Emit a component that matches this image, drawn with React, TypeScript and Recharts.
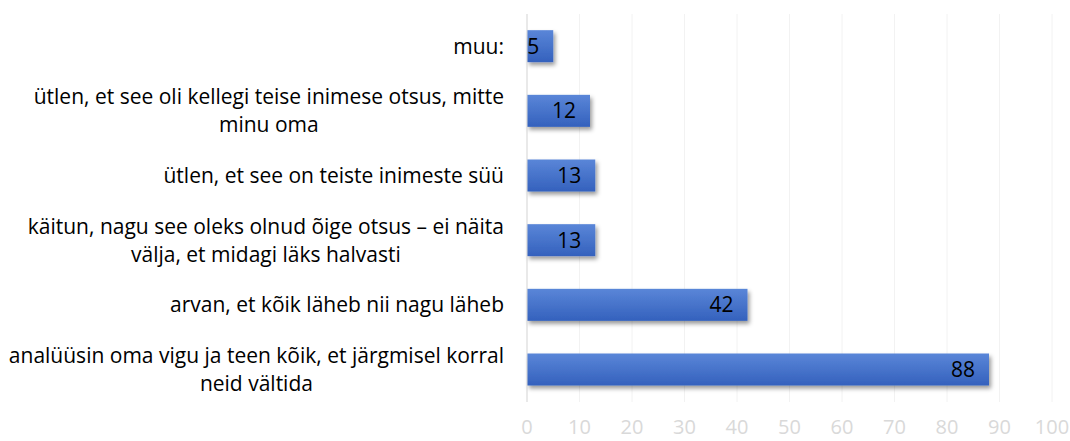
import React from 'react';
import { BarChart, Bar, XAxis, YAxis, CartesianGrid, LabelList } from 'recharts';

const categories: string[][] = [
  ['muu:'],
  ['ütlen, et see oli kellegi teise inimese otsus, mitte', 'minu oma'],
  ['ütlen, et see on teiste inimeste süü'],
  ['käitun, nagu see oleks olnud õige otsus – ei näita', 'välja, et midagi läks halvasti'],
  ['arvan, et kõik läheb nii nagu läheb'],
  ['analüüsin oma vigu ja teen kõik, et järgmisel korral', 'neid vältida'],
];
const values: number[] = [5, 12, 13, 13, 42, 88];
const xTicks: number[] = [0, 10, 20, 30, 40, 50, 60, 70, 80, 90, 100];

const FONT = '"Open Sans", sans-serif';
const FS = 21;

const data = categories.map((c, i) => ({ name: c.join('\n'), value: values[i] }));

let ctx: CanvasRenderingContext2D | null = null;
function measure(t: string): number {
  if (!ctx) {
    const c = document.createElement('canvas');
    ctx = c.getContext('2d');
  }
  if (!ctx) return t.length * 9;
  ctx.font = `${FS}px ${FONT}`;
  return ctx.measureText(t).width;
}

const YTick = (props: any) => {
  const { x, y, payload } = props;
  const lines: string[] = String(payload.value).split('\n');
  const right = x - 15;
  const lh = 28;
  const w = Math.max(...lines.map(measure));
  const cx = right - w / 2;
  const y0 = y - ((lines.length - 1) * lh) / 2;
  return (
    <g>
      {lines.map((l, i) => (
        <text key={i} x={cx} y={y0 + i * lh} dy="0.35em" textAnchor="middle" fill="#000" fontSize={FS} fontFamily={FONT}>
          {l}
        </text>
      ))}
    </g>
  );
};

const BarShape = (props: any) => {
  const { x, y, width, height, index } = props;
  const gid = `barGrad${index}`;
  const fid = `barShadow${index}`;
  return (
    <g>
      <defs>
        <linearGradient id={gid} x1="0" y1="0" x2="0" y2="1">
          <stop offset="0%" stopColor="#5a86d8" />
          <stop offset="100%" stopColor="#3461bd" />
        </linearGradient>
        <filter id={fid} x="-20%" y="-40%" width="150%" height="200%">
          <feDropShadow dx="2" dy="3" stdDeviation="2" floodColor="#000" floodOpacity="0.4" />
        </filter>
      </defs>
      <rect x={x} y={y} width={width} height={height} fill={`url(#${gid})`} filter={`url(#${fid})`} />
    </g>
  );
};

export default function App() {
  return (
    <div style={{ position: 'absolute', left: 0, top: 0, width: 1070, height: 441, background: '#fff' }}>
      <BarChart
        width={1070}
        height={441}
        data={data}
        layout="vertical"
        margin={{ top: 14, right: 18, bottom: 8, left: 0 }}
        barCategoryGap="25%"
      >
        <CartesianGrid horizontal={false} stroke="#f2f2f2" />
        <XAxis
          type="number"
          domain={[0, 100]}
          ticks={xTicks}
          axisLine={false}
          tickLine={false}
          height={31}
          tick={{ fill: '#d9d9d9', fontSize: 20, fontFamily: FONT }}
          tickMargin={12}
          interval={0}
        />
        <YAxis
          type="category"
          dataKey="name"
          width={527}
          axisLine={{ stroke: '#d9d9d9' }}
          tickLine={false}
          tick={<YTick />}
          interval={0}
        />
        <Bar dataKey="value" fill="#4472c4" isAnimationActive={false} shape={<BarShape />}>
          <LabelList dataKey="value" position="insideRight" offset={14} fill="#000" fontSize={FS} fontFamily={FONT} />
        </Bar>
      </BarChart>
    </div>
  );
}
